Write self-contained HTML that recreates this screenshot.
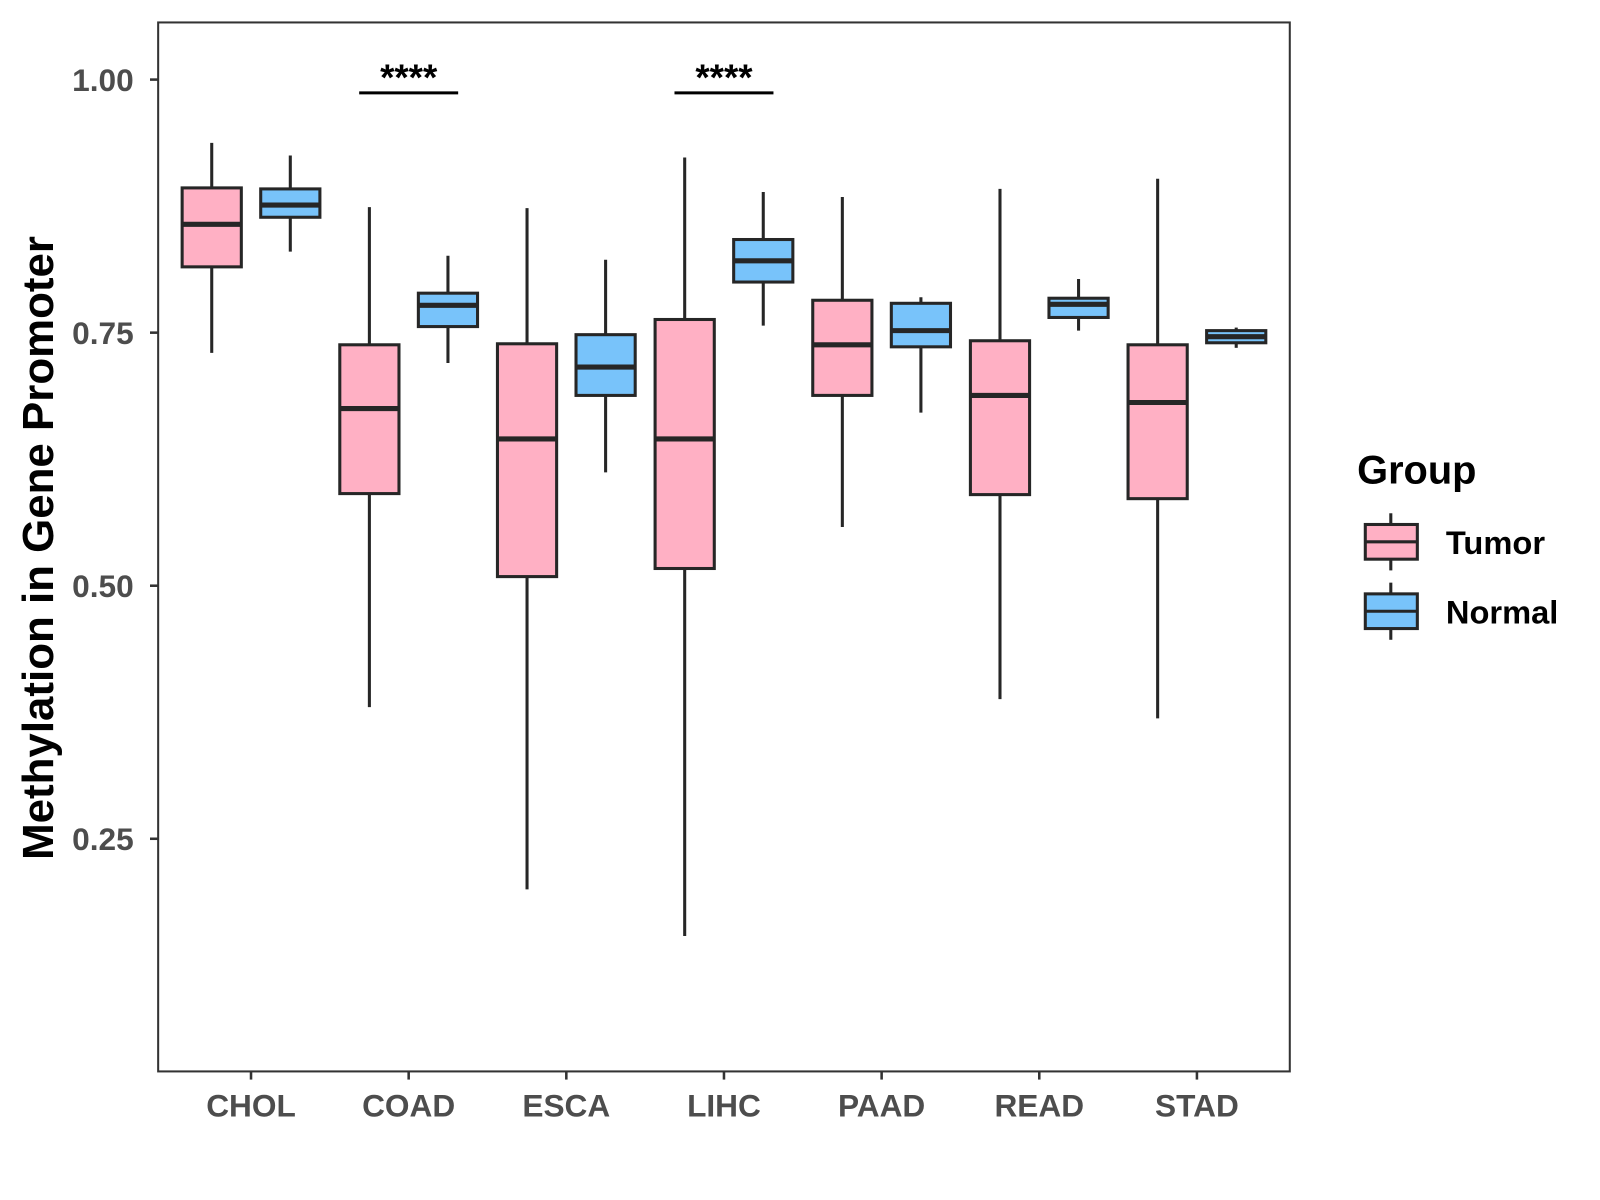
<!DOCTYPE html>
<html><head><meta charset="utf-8"><style>
html,body{margin:0;padding:0;background:#fff;}
svg{display:block;font-family:"Liberation Sans",Arial,sans-serif;}
</style></head><body>
<svg id="chart" width="1600" height="1200" viewBox="0 0 1600 1200">
<rect x="0" y="0" width="1600" height="1200" fill="#fff"/>
<g transform="scale(1.0204)">
<g id="marks"></g>
<rect x="155" y="22" width="1109" height="1028" fill="none" stroke="#333" stroke-width="2"/>
<g id="axes"></g>
<text transform="translate(52,537) rotate(-90)" text-anchor="middle" font-size="43" font-weight="bold" fill="#000">Methylation in Gene Promoter</text>
<g>
<text x="1330" y="474" font-size="39" font-weight="bold" fill="#000">Group</text>
<g>
<line x1="1363" y1="503" x2="1363" y2="559" stroke="#262626" stroke-width="3"/>
<rect x="1338" y="514" width="51" height="34" fill="#FFB0C4" stroke="#262626" stroke-width="3"/>
<line x1="1338" y1="531" x2="1389" y2="531" stroke="#262626" stroke-width="3"/>
<text x="1417" y="543" font-size="32" font-weight="bold" fill="#000">Tumor</text>
</g>
<g>
<line x1="1363" y1="571" x2="1363" y2="627" stroke="#262626" stroke-width="3"/>
<rect x="1338" y="582" width="51" height="34" fill="#78C3FA" stroke="#262626" stroke-width="3"/>
<line x1="1338" y1="599" x2="1389" y2="599" stroke="#262626" stroke-width="3"/>
<text x="1417" y="611" font-size="32" font-weight="bold" fill="#000">Normal</text>
</g>
</g>
</g>
</svg>
<script>
const categories = ["CHOL","COAD","ESCA","LIHC","PAAD","READ","STAD"];
// [lowWhisker, q1, median, q3, highWhisker]
const tumorStats = [
 [0.730,0.815,0.857,0.893,0.9375],
 [0.380,0.591,0.675,0.738,0.874],
 [0.200,0.509,0.645,0.739,0.873],
 [0.154,0.517,0.645,0.763,0.923],
 [0.558,0.688,0.738,0.782,0.884],
 [0.388,0.590,0.688,0.742,0.892],
 [0.369,0.586,0.681,0.738,0.902]
];
const normalStats = [
 [0.830,0.864,0.876,0.892,0.925],
 [0.720,0.756,0.777,0.789,0.826],
 [0.612,0.688,0.716,0.748,0.822],
 [0.757,0.800,0.821,0.842,0.889],
 [0.671,0.736,0.752,0.779,0.785],
 [0.752,0.765,0.778,0.784,0.803],
 [0.735,0.740,0.746,0.752,0.755]
];
const yTicks = [0.25,0.50,0.75,1.00];
const yTickLabels = ["0.25","0.50","0.75","1.00"];
const sigCategories = ["COAD","LIHC"];
const sigLabels = ["****","****"];

const NS="http://www.w3.org/2000/svg";
function yScale(v){ return 78 + (1 - v) * 992; }
function xScale(i){ return 246 + i * 154.5; }
function mk(tag, attrs, parent){ const e=document.createElementNS(NS,tag); for(const k in attrs) e.setAttribute(k,attrs[k]); parent.appendChild(e); return e; }
const marks=document.getElementById('marks');
const axes=document.getElementById('axes');
const BW=58, OFF=38.5;
function drawBox(s, cx, fill, name){
  const g=mk('g',{},marks);
  
  
  mk('line',{x1:cx,x2:cx,y1:yScale(s[4]),y2:yScale(s[0]),stroke:'#262626','stroke-width':3},g);
  mk('rect',{x:cx-BW/2,y:yScale(s[3]),width:BW,height:Math.max(yScale(s[1])-yScale(s[3]),1),fill:fill,stroke:'#262626','stroke-width':3},g);
  mk('line',{x1:cx-BW/2,x2:cx+BW/2,y1:yScale(s[2]),y2:yScale(s[2]),stroke:'#262626','stroke-width':5},g);
}
categories.forEach((c,i)=>{
  drawBox(tumorStats[i], xScale(i)-OFF, '#FFB0C4', 'box-tumor-'+c.toLowerCase());
  drawBox(normalStats[i], xScale(i)+OFF, '#78C3FA', 'box-normal-'+c.toLowerCase());
  mk('line',{x1:xScale(i),x2:xScale(i),y1:1050,y2:1058,stroke:'#333','stroke-width':2.5},axes);
  const t=mk('text',{x:xScale(i),y:1094,'text-anchor':'middle','font-size':31,'font-weight':'bold',fill:'#4d4d4d'},axes);
  t.textContent=c;
  
  
});
yTicks.forEach((v,i)=>{
  mk('line',{x1:147,x2:155,y1:yScale(v),y2:yScale(v),stroke:'#333','stroke-width':2.5},axes);
  const t=mk('text',{x:131,y:yScale(v)+11,'text-anchor':'end','font-size':31,'font-weight':'bold',fill:'#4d4d4d'},axes);
  t.textContent=yTickLabels[i];
  
  
});
sigCategories.forEach((c,k)=>{
  const i=categories.indexOf(c);
  const g=mk('g',{},marks);
  
  
  mk('line',{x1:xScale(i)-OFF-10,x2:xScale(i)+OFF+10,y1:91,y2:91,stroke:'#000','stroke-width':3},g);
  const t=mk('text',{x:xScale(i),y:88,'text-anchor':'middle','font-size':36,'font-weight':'bold',fill:'#000'},g);
  t.textContent=sigLabels[k];
});
</script>
</body></html>
